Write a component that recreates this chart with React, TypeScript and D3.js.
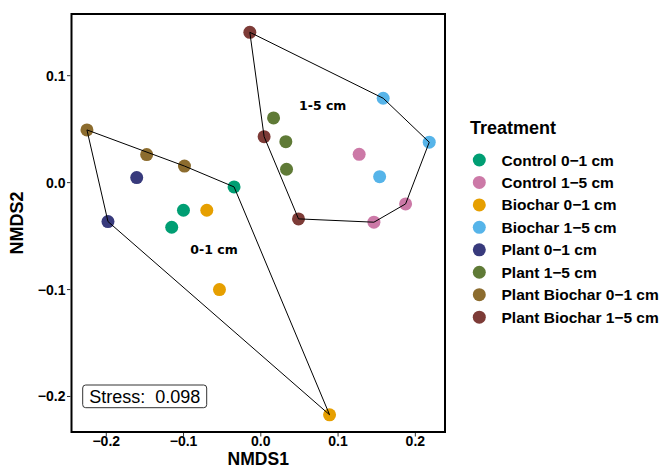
import React from "react";
import * as d3 from "d3";

const treatments = [
  "Control 0\u22121 cm",
  "Control 1\u22125 cm",
  "Biochar 0\u22121 cm",
  "Biochar 1\u22125 cm",
  "Plant 0\u22121 cm",
  "Plant 1\u22125 cm",
  "Plant Biochar 0\u22121 cm",
  "Plant Biochar 1\u22125 cm",
];
const colors = ["#009E73", "#CC79A7", "#E69F00", "#56B4E9", "#383A7C", "#5F7A36", "#8C6C2E", "#7D3B37"];
const depth = ["0-1 cm", "1-5 cm", "0-1 cm", "1-5 cm", "0-1 cm", "1-5 cm", "0-1 cm", "1-5 cm"];

// NMDS scores per treatment: [NMDS1, NMDS2]
const controlShallow: [number, number][] = [[-0.0346, -0.004], [-0.1001, -0.0258], [-0.1153, -0.0417]];
const controlDeep: [number, number][] = [[0.1273, 0.0265], [0.1874, -0.0199], [0.1464, -0.037]];
const biocharShallow: [number, number][] = [[-0.0699, -0.0258], [-0.0535, -0.1], [0.089, -0.2171]];
const biocharDeep: [number, number][] = [[0.1584, 0.0789], [0.218, 0.0378], [0.1538, 0.0056]];
const plantShallow: [number, number][] = [[-0.1606, 0.0047], [-0.1978, -0.0364]];
const plantDeep: [number, number][] = [[0.0165, 0.0605], [0.0324, 0.0383], [0.0333, 0.0125]];
const plantBiocharShallow: [number, number][] = [[-0.225, 0.0493], [-0.1477, 0.0262], [-0.0988, 0.0155]];
const plantBiocharDeep: [number, number][] = [[-0.0142, 0.1406], [0.0043, 0.043], [0.0488, -0.0339]];

const groups = [controlShallow, controlDeep, biocharShallow, biocharDeep, plantShallow, plantDeep, plantBiocharShallow, plantBiocharDeep];

const xTicks = [-0.2, -0.1, 0.0, 0.1, 0.2];
const yTicks = [-0.2, -0.1, 0.0, 0.1];
const hullLabels = [
  { depth: "1-5 cm", pos: [0.0801, 0.0718] as [number, number] },
  { depth: "0-1 cm", pos: [-0.0605, -0.0622] as [number, number] },
];
const stressText = "Stress:  0.098";

const FONT = "'Liberation Sans', Arial, Helvetica, sans-serif";

export default function App() {
  const W = 664, H = 474;
  const L = 71.5, R = 445, T = 14, B = 432;
  const x = d3.scaleLinear().domain([-0.245, 0.2384]).range([L, R]);
  const y = d3.scaleLinear().domain([0.1577, -0.2332]).range([T, B]);
  const fmt = (v: number) => d3.format(".1f")(v).replace("-", "\u2212");

  const hullGroups = ["0-1 cm", "1-5 cm"].map((d) => {
    const pts: [number, number][] = [];
    groups.forEach((g, i) => {
      if (depth[i] === d) g.forEach((p) => pts.push([x(p[0]), y(p[1])]));
    });
    return d3.polygonHull(pts) || [];
  });

  return (
    <svg width={W} height={H} style={{ position: "absolute", left: 0, top: 0, background: "#fff" }}>
      <rect x={0} y={0} width={W} height={H} fill="#fff" />
      {groups.map((g, i) =>
        g.map((p, j) => (
          <circle key={`${i}-${j}`} cx={x(p[0])} cy={y(p[1])} r={6.5} fill={colors[i]} />
        ))
      )}
      {hullGroups.map((h, i) => (
        <path key={i} d={"M" + h.map((p) => p.join(",")).join("L") + "Z"} fill="none" stroke="#000" strokeWidth={1} />
      ))}
      {hullLabels.map((l, i) => (
        <text key={i} x={x(l.pos[0])} y={y(l.pos[1])} textAnchor="middle" dominantBaseline="central"
          fontFamily="'DejaVu Sans', Verdana, sans-serif" fontWeight="bold" fontSize={12.5} fill="#000">
          {l.depth}
        </text>
      ))}
      <rect x={82.7} y={385} width={124} height={22.7} rx={3} fill="#fff" stroke="#333" strokeWidth={1} />
      <text x={144.7} y={396.5} textAnchor="middle" dominantBaseline="central" fontFamily={FONT} fontSize={18} fill="#000" style={{ whiteSpace: "pre" }}>
        {stressText}
      </text>
      <rect x={L} y={T} width={R - L} height={B - T} fill="none" stroke="#000" strokeWidth={2} />
      {xTicks.map((t) => (
        <g key={t}>
          <line x1={x(t)} x2={x(t)} y1={B + 1} y2={B + 4.5} stroke="#333" strokeWidth={1} />
          <text x={x(t)} y={B + 13.5} textAnchor="middle" fontFamily={FONT} fontWeight="bold" fontSize={14} fill="#000">
            {fmt(t)}
          </text>
        </g>
      ))}
      {yTicks.map((t) => (
        <g key={t}>
          <line x1={L - 4.5} x2={L - 1} y1={y(t)} y2={y(t)} stroke="#333" strokeWidth={1} />
          <text x={L - 6} y={y(t)} textAnchor="end" dominantBaseline="central" fontFamily={FONT} fontWeight="bold" fontSize={14} fill="#000">
            {fmt(t)}
          </text>
        </g>
      ))}
      <text x={(L + R) / 2} y={464.5} textAnchor="middle" fontFamily={FONT} fontWeight="bold" fontSize={17.5} fill="#000">
        NMDS1
      </text>
      <text transform={`translate(23,${(T + B) / 2}) rotate(-90)`} textAnchor="middle" fontFamily={FONT} fontWeight="bold" fontSize={18} fill="#000">
        NMDS2
      </text>
      <text x={470} y={134} fontFamily={FONT} fontWeight="bold" fontSize={18} fill="#000">
        Treatment
      </text>
      {treatments.map((t, i) => (
        <g key={t}>
          <circle cx={479.3} cy={160 + i * 22.45} r={6.5} fill={colors[i]} />
          <text x={501.5} y={160 + i * 22.45} dominantBaseline="central" fontFamily={FONT} fontWeight="bold" fontSize={15.5} fill="#000">
            {t}
          </text>
        </g>
      ))}
    </svg>
  );
}
